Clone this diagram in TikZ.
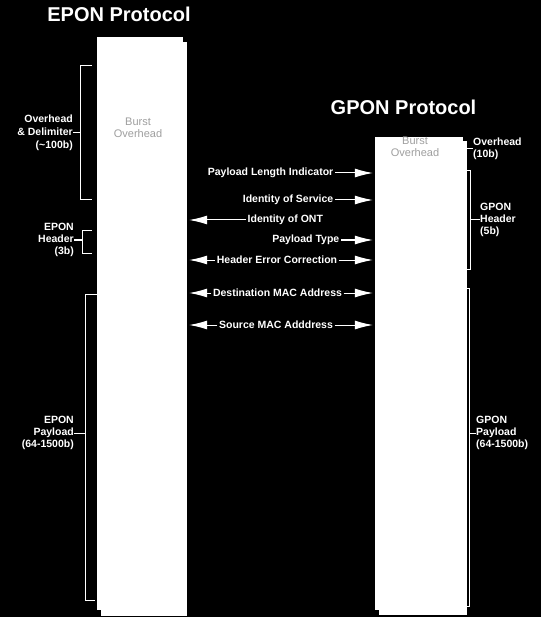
\documentclass[tikz,border=0pt]{standalone}
\usepackage{
	fontspec,			% Fonts
	xcolor
}
\setmainfont{Liberation Sans}
\usetikzlibrary{arrows.meta}

\tikzset{
	col/.style={fill=white, draw=none, inner sep=0pt},
	title/.style={text=white, font=\bfseries\fontsize{20}{24}\selectfont},
	lbl/.style={text=white, font=\bfseries\fontsize{10.5}{12}\selectfont, inner sep=1.5pt},
	side/.style={lbl, inner sep=0pt},
	burst/.style={text=gray!75, font=\fontsize{11}{12}\selectfont, align=center},
	brk/.style={white, line width=1pt},
	arr/.style={white, line width=1pt, shorten >=2pt, -{Latex[length=18pt,width=9pt]}}
}

\begin{document}
\begin{tikzpicture}[x=1pt,y=-1pt]
		\fill[black] (0,0) rectangle (541,617);
		\useasboundingbox (0,0) rectangle (541,617);
		% titles
		\node[title] (etitle) at (119,14) {EPON Protocol};
		\node[title] (gtitle) at (403.5,107.5) {GPON Protocol};
		% frame columns
		\node[col, minimum width=86pt, minimum height=573pt] (eponbk) at (144,329) {};
		\node[col, minimum width=86pt, minimum height=573pt] (epon) at (140,323.5) {};
		\node[col, minimum width=88pt, minimum height=474pt] (gponbk) at (423,378) {};
		\node[col, minimum width=88pt, minimum height=473pt] (gpon) at (419,373.5) {};
		\node[burst] (eburst) at (138,128) {Burst\\Overhead};
		\node[burst] (gburst) at (415,147) {Burst\\Overhead};
		% fields
		\node[lbl, anchor=east] (pli) at (335,173) {Payload Length Indicator};
		\node[lbl, anchor=east] (ios) at (335,200) {Identity of Service};
		\node[lbl, anchor=west] (iont) at (246,220) {Identity of ONT};
		\node[lbl, anchor=east] (ptype) at (341,240) {Payload Type};
		\node[lbl] (hec) at (277,260) {Header Error Correction};
		\node[lbl] (dmac) at (277.5,293) {Destination MAC Address};
		\node[lbl] (smac) at (276,325) {Source MAC Adddress};
		\draw[arr] (pli.east) -- (pli.east -| gpon.west);
		\draw[arr] (ios.east) -- (ios.east -| gpon.west);
		\draw[arr] (iont.west) -- (iont.west -| eponbk.east);
		\draw[arr] (ptype.east) -- (ptype.east -| gpon.west);
		\draw[arr] (hec.west) -- (hec.west -| eponbk.east);
		\draw[arr] (hec.east) -- (hec.east -| gpon.west);
		\draw[arr] (dmac.west) -- (dmac.west -| eponbk.east);
		\draw[arr] (dmac.east) -- (dmac.east -| gpon.west);
		\draw[arr] (smac.west) -- (smac.west -| eponbk.east);
		\draw[arr] (smac.east) -- (smac.east -| gpon.west);
		% EPON brackets
		\node[side, align=right, anchor=east, font=\bfseries\fontsize{10.5}{13}\selectfont] (eovh) at (73,133) {Overhead\\\& Delimiter\\(\textasciitilde100b)};
		\draw[brk] (92,66) -- (80,66) -- (80,200) -- (92,200);
		\draw[brk] (eovh.east) -- ++(7,0);
		\node[side, align=right, anchor=east] (ehdr) at (74,240) {EPON\\Header\\(3b)};
		\draw[brk] (92,231) -- (82,231) -- (82,253) -- (92,253);
		\draw[brk] (ehdr.east) -- ++(8,0);
		\node[side, align=right, anchor=east] (epay) at (74,433) {EPON\\Payload\\(64-1500b)};
		\draw[brk] (97,294) -- (85,294) -- (85,600) -- (95,600);
		\draw[brk] (epay.east) -- ++(11,0);
		% GPON brackets
		\node[side, align=left, anchor=west] (govh) at (473,149) {Overhead\\(10b)};
		\draw[brk] (govh.west) -- ++(-7,0);
		\node[side, align=left, anchor=west] (ghdr) at (480,220) {GPON\\Header\\(5b)};
		\draw[brk] (466,171) -- (470,171) -- (470,269) -- (466,269);
		\draw[brk] (ghdr.west) -- ++(-10,0);
		\node[side, align=left, anchor=west] (gpay) at (476,433) {GPON\\Payload\\(64-1500b)};
		\draw[brk] (466,288) -- (469,288) -- (469,606) -- (465,606);
		\draw[brk] (gpay.west) -- ++(-7,0);
	\end{tikzpicture}
\end{document}
